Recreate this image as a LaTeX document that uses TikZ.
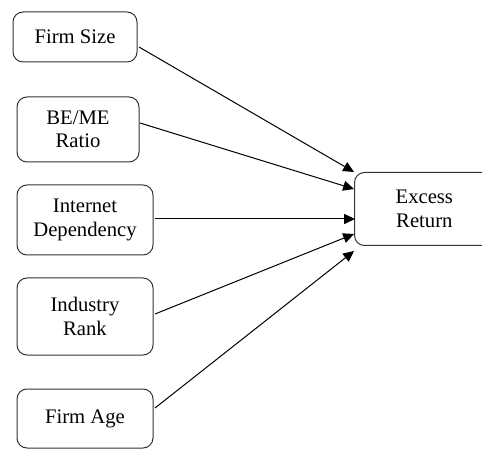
\documentclass[tikz,border=0pt]{standalone}
\usepackage{fontspec}
\setmainfont{Liberation Serif}
\usetikzlibrary{arrows.meta}
\begin{document}
\begin{tikzpicture}[x=0.6pt,y=-0.6pt,
    factor/.style={draw=black!80, line width=0.6pt, rounded corners=6pt,
      align=center, inner sep=0pt,
      font=\fontsize{12.4}{14}\selectfont},
    link/.style={-{Triangle[length=6.5pt,width=6pt]}, line width=0.6pt}]
  \useasboundingbox (0,0) rectangle (482,450);
  % explanatory factors
  \node[factor, minimum width=74.4pt, minimum height=30pt] (size)   at (75,37)    {Firm Size};
  \node[factor, minimum width=73.2pt, minimum height=39pt] (beme)   at (78,129.5) {BE/ME\\Ratio};
  \node[factor, minimum width=81.6pt, minimum height=42pt] (inet)   at (85,220)   {Internet\\Dependency};
  \node[factor, minimum width=81.6pt, minimum height=46.2pt] (rank) at (85,316.5) {Industry\\Rank};
  \node[factor, minimum width=81.6pt, minimum height=35.4pt] (age)  at (85,418.5) {Firm Age};
  % dependent variable (cut off at the right edge)
  \node[factor, draw=none, minimum width=76.2pt, minimum height=43.2pt] (ret) at (418.5,209) {\hspace*{7pt}Excess\\\hspace*{7pt}Return};
  \draw[draw=black!80, line width=0.6pt, rounded corners=6pt]
    (ret.north east) -- (ret.north west) -- (ret.south west) -- (ret.south east);
  % arrow ends
  \coordinate (size_out) at (139,47);
  \coordinate (beme_out) at (140,123);
  \coordinate (inet_out) at (155,219);
  \coordinate (rank_out) at (155,314);
  \coordinate (age_out)  at (155,408);
  \coordinate (ret_a) at (354,172);
  \coordinate (ret_b) at (354,189);
  \coordinate (ret_c) at (355,219);
  \coordinate (ret_d) at (354,234);
  \coordinate (ret_e) at (354,251);
  % arrows
  \draw[link] (size_out) -- (ret_a);
  \draw[link] (beme_out) -- (ret_b);
  \draw[link] (inet_out) -- (ret_c);
  \draw[link] (rank_out) -- (ret_d);
  \draw[link] (age_out)  -- (ret_e);
\end{tikzpicture}
\end{document}
